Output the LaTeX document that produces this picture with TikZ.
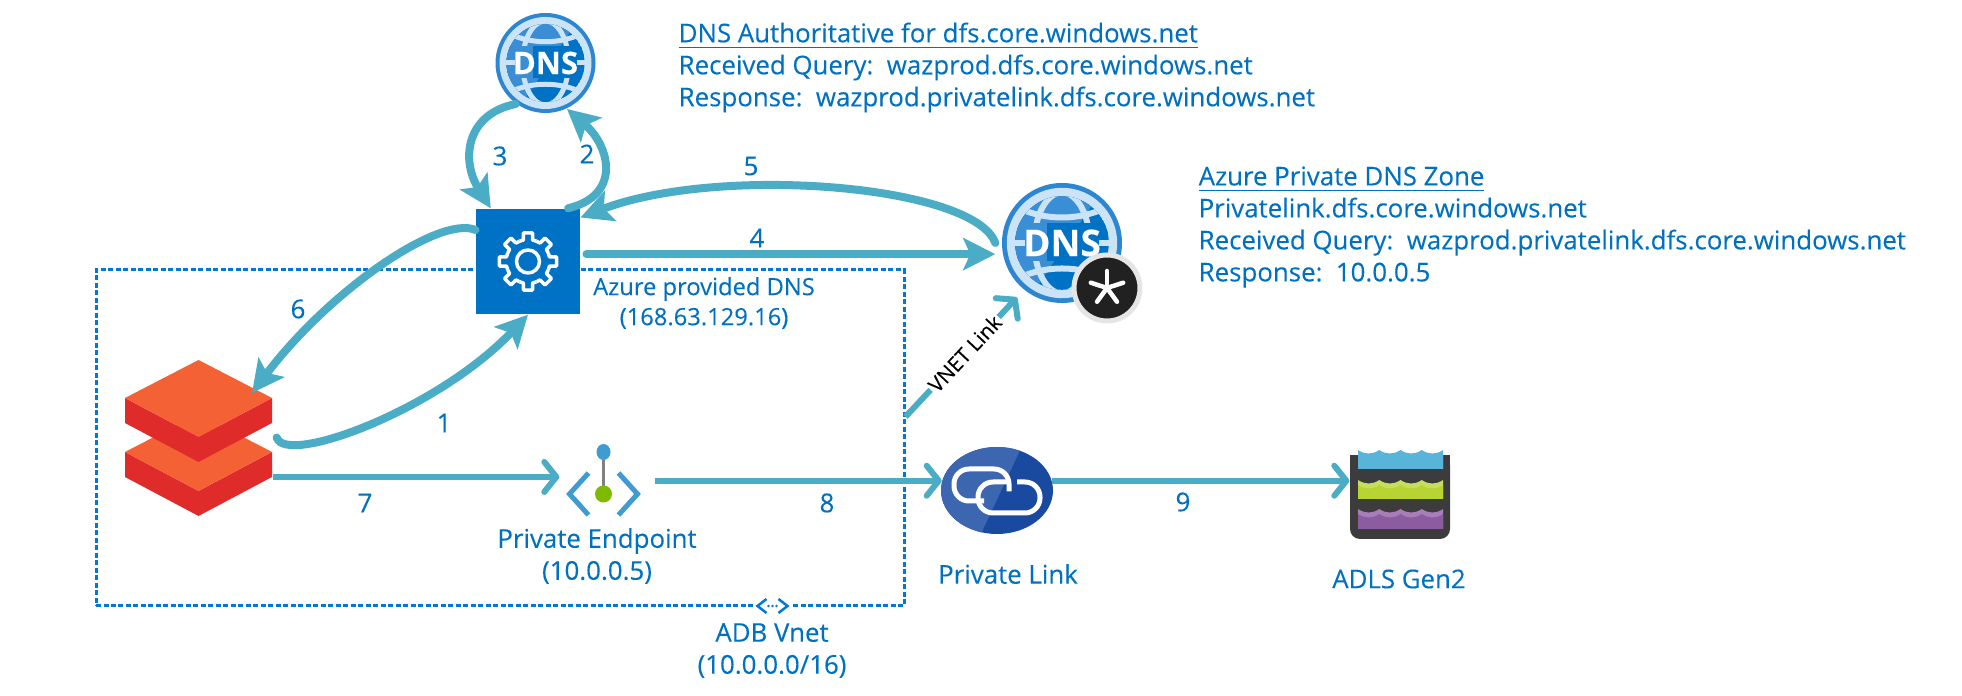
\documentclass[tikz,border=0pt]{standalone}
\usepackage{fontspec}
\usepackage{xcolor}
\usepackage{tikz}
\usetikzlibrary{calc}
\usetikzlibrary{arrows.meta}
\usetikzlibrary{shapes.geometric}
\setmainfont[FakeBold=0.15]{Open Sans}

\definecolor{flowcol}{HTML}{4BACC6}
\definecolor{txtcol}{HTML}{0070C0}
\definecolor{vnetcol}{HTML}{0078D7}
\definecolor{gearcol}{HTML}{0072C6}
\definecolor{ringcol}{HTML}{2C86D1}
\definecolor{litecol}{HTML}{CBE3F6}
\definecolor{sheencol}{HTML}{3A8ED6}
\definecolor{topcol}{HTML}{F46135}
\definecolor{sidecol}{HTML}{E02B2B}
\definecolor{linkcol}{HTML}{1A4AA0}
\definecolor{linklite}{HTML}{3D66B0}
\definecolor{adlscol}{HTML}{3C3C3C}
\definecolor{waterblue}{HTML}{59B4D9}
\definecolor{watergreen}{HTML}{B8D432}
\definecolor{watergreenlt}{HTML}{C6DD5E}
\definecolor{waterpurple}{HTML}{8C5CA0}
\definecolor{waterpurplelt}{HTML}{A87DBA}
\definecolor{pepgreen}{HTML}{7FBA00}
\definecolor{pepblue}{HTML}{3F9BD0}

\tikzset{
    flow/.style={draw=flowcol,line width=0.08cm,line cap=round,-{Stealth[length=0.32cm,width=0.32cm,inset=0.07cm]}},
    thinflow/.style={draw=flowcol,line width=0.06cm,-{Straight Barb[length=0.12cm,width=0.3cm,round]}},
    txtlabel/.style={text=txtcol,font=\fontsize{7.35}{9.1}\selectfont,inner sep=0pt},
    iconlabel/.style={txtlabel,align=center},
    infolabel/.style={txtlabel,align=left,anchor=west},
    numlabel/.style={text=txtcol,font=\fontsize{7.4}{8}\selectfont,inner sep=0pt},
    dnsnode/.style={circle,inner sep=0pt,minimum size=#1*2cm,fill=ringcol},
    dnstext/.style={text=white,inner sep=0pt,font=\fontsize{#1}{12}\selectfont\bfseries},
    gearline/.style={draw=white,line width=0.035cm,line join=round},
}

% globe lines, drawn over a named node
\newcommand{\globelines}[2]{%
\begin{scope}[shift={(#1.center)},scale=#2]
    \fill[litecol] (0,0) circle (0.92);
    \begin{scope}
    \clip (0,0) circle (0.78);
    \fill[gearcol] (0,0) circle (0.78);
    \fill[sheencol] (-1,1) -- (0.75,1) -- (-0.6,-1) -- cycle;
    \draw[litecol,line width=#2*0.1cm] (0,0) ellipse (0.46 and 0.84);
    \draw[litecol,line width=#2*0.1cm] (-0.8,0.62) .. controls (-0.3,0.36) and (0.3,0.36) .. (0.8,0.62);
    \draw[litecol,line width=#2*0.1cm] (-0.8,-0.62) .. controls (-0.3,-0.36) and (0.3,-0.36) .. (0.8,-0.62);
    \fill[gearcol] (-1,-0.3) rectangle (1,0.34);
    \fill[sheencol] (-1,-0.3) rectangle (-0.25,0.34);
    \end{scope}
    \draw[litecol,line width=#2*0.1cm] (-0.85,0) -- (-0.62,0) (0.85,0) -- (0.62,0);
\end{scope}}

\newcommand{\wavelayer}[4]{%
    \fill[#3] (-0.42,#2) -- (-0.42,#1) to[bend right=35] (-0.2075,#1) to[bend right=35] (0.005,#1) to[bend right=35] (0.2175,#1) to[bend right=35] (0.43,#1) -- (0.43,#2) -- cycle;
    \fill[#4] (-0.42,#2) -- (-0.42,#1-0.05) to[bend right=35] (-0.2075,#1-0.05) to[bend right=35] (0.005,#1-0.05) to[bend right=35] (0.2175,#1-0.05) to[bend right=35] (0.43,#1-0.05) -- (0.43,#2) -- cycle;
}

\begin{document}
\begin{tikzpicture}
\useasboundingbox (0,0) rectangle (19.62,6.96);

% Vnet box
\node[draw=vnetcol,line width=0.03cm,dash pattern=on 0.05cm off 0.025cm,minimum width=8.08cm,minimum height=3.36cm] (vnet) at (5,2.58){};
\node[fill=white,minimum width=0.36cm,minimum height=0.2cm,inner sep=0pt] (vneticon) at (7.725,0.9){};
\draw[vnetcol,line width=0.025cm] ($(vneticon.center)+(-0.06,0.07)$) -- ++(-0.09,-0.07) -- ++(0.09,-0.07);
\draw[vnetcol,line width=0.025cm] ($(vneticon.center)+(0.06,0.07)$) -- ++(0.09,-0.07) -- ++(-0.09,-0.07);
\foreach \k in {-0.04,0,0.04} \fill[vnetcol] ($(vneticon.center)+(\k,0)$) circle (0.014);

% Icons
\node[dnsnode=0.5] (dnstop) at (5.455,6.33){};
\globelines{dnstop}{0.5}
\node[dnstext=8.8] (dnstoptxt) at (dnstop.center){DNS};
\node[dnsnode=0.6] (dnszone) at (10.62,4.53){};
\globelines{dnszone}{0.6}
\node[dnstext=10.5] (dnszonetxt) at (dnszone.center){DNS};
\node[circle,fill=black!87,draw=black!10,line width=0.05cm,minimum size=0.66cm,inner sep=0pt] (zonebadge) at (11.07,4.08){};
\foreach \a in {90,162,234,306,18} \draw[white,line width=0.045cm,line cap=round] (zonebadge.center) -- ++(\a:0.17);

\node[fill=gearcol,minimum width=1.035cm,minimum height=1.05cm,inner sep=0pt] (gear) at (5.28,4.345){};
\foreach \a in {0,45,...,315}
    \draw[gearline,shift={(gear.center)},rotate=\a] (-22.5:0.22) -- (-12:0.22) -- (-9:0.29) -- (9:0.29) -- (12:0.22) -- (22.5:0.22);
\draw[gearline] (gear.center) circle (0.115);

\node[minimum width=1.47cm,minimum height=1.55cm,inner sep=0pt] (dbx) at (1.985,2.585){};
\foreach \dy in {-0.54,0}{
    \begin{scope}[shift={(dbx.center)},yshift=\dy cm]
    \fill[sidecol] (-0.735,0.395) -- (0,0.005) -- (0.735,0.395) -- (0.735,0.145) -- (0,-0.245) -- (-0.735,0.145) -- cycle;
    \fill[topcol] (0,0.775) -- (0.735,0.395) -- (0,0.005) -- (-0.735,0.395) -- cycle;
    \end{scope}
}

\node[minimum width=0.73cm,minimum height=0.66cm,inner sep=0pt] (pep) at (6.035,2.14){};
\begin{scope}[shift={(pep.center)}]
\draw[black!50,line width=0.03cm] (0,0.3) -- (0,-0.12);
\fill[pepblue] (0,0.3) ellipse (0.07 and 0.08);
\fill[pepgreen] (0,-0.12) circle (0.085);
\draw[pepblue,line width=0.05cm] (-0.15,0.09) -- (-0.34,-0.12) -- (-0.15,-0.33);
\draw[pepblue,line width=0.05cm] (0.15,0.09) -- (0.34,-0.12) -- (0.15,-0.33);
\end{scope}

\node[ellipse,minimum width=1.12cm,minimum height=0.87cm,inner sep=0pt,fill=linkcol] (plink) at (9.97,2.055){};
\begin{scope}
\clip (plink.center) ellipse (0.56 and 0.435);
\fill[linklite] (9.41,2.5) -- (10.22,2.5) -- (9.8,1.6) -- (9.41,1.6) -- cycle;
\end{scope}
\begin{scope}[shift={(plink.center)},rounded corners=0.15cm,line width=0.05cm]
\draw[white] (-0.13,-0.105) -- (-0.43,-0.105) -- (-0.43,0.215) -- (0.12,0.215) -- (0.12,-0.01);
\draw[white] (0.1,0.085) -- (-0.19,0.085) -- (-0.19,-0.225) -- (0.43,-0.225) -- (0.43,0.085) -- (0.2,0.085);
\end{scope}

\node[minimum width=1cm,minimum height=0.84cm,inner sep=0pt] (adls) at (14,1.99){};
\begin{scope}[shift={(adls.center)}]
\fill[adlscol,rounded corners=0.1cm] (-0.5,0.42) -- (-0.5,-0.42) -- (0.5,-0.42) -- (0.5,0.42) -- cycle;
\fill[adlscol] (-0.5,0.42) rectangle (0.5,0);
\wavelayer{0.47}{0.28}{waterblue}{waterblue}
\wavelayer{0.17}{-0.02}{watergreenlt}{watergreen}
\wavelayer{-0.12}{-0.32}{waterpurplelt}{waterpurple}
\end{scope}

% Connectors
\draw[flow] (gear.53) .. controls +(0.54,0.13) and +(0.43,-0.37) .. (dnstop.-65);
\draw[flow] (dnstop.234) .. controls +(-0.5,-0.1) and +(-0.3,0.48) .. (gear.125);
\draw[flow,shorten <=0.06cm,shorten >=0.06cm] (gear.8) -- (gear.8 -| dnszone.west);
\draw[flow] ([xshift=-0.06cm]dnszone.west) .. controls +(-0.21,0.58) and +(1.39,0.53) .. (gear.40);
\coordinate (dbxtop) at (2.52,3.03);
\draw[flow] (gear.149) .. controls +(-0.36,0.15) and +(0.78,1.03) .. (dbxtop);
\draw[flow] ([xshift=0.04cm]dbx.east) .. controls +(0.09,-0.29) and +(-0.9,-0.95) .. (gear.south);
\draw[thinflow,shorten >=0.07cm] (dbx.-28) -- (dbx.-28 -| pep.west);
\draw[thinflow,shorten <=0.14cm] (plink.170 -| pep.east) -- (plink.170);
\draw[thinflow] (plink.10) -- (plink.10 -| adls.west);
\draw[thinflow,shorten >=0.1cm] (vnet.3.7) -- (dnszone.231)
    node[midway,sloped,fill=white,inner sep=0.5pt,text=black,font=\fontsize{5.9}{7}\selectfont]{VNET Link};

% Labels
\foreach \n/\x/\y in {1/4.44/2.73,2/5.87/5.42,3/5.0/5.40,4/7.57/4.58,5/7.51/5.30,6/2.98/3.87,7/3.65/1.93,8/8.27/1.93,9/11.83/1.94}
    \node[numlabel] (num\n) at (\x,\y){\n};

\node[iconlabel,font=\fontsize{6.75}{8.55}\selectfont] (lblgear) at (7.04,3.93){Azure provided DNS\\(168.63.129.16)};
\node[iconlabel] (lblpep) at (5.97,1.40){Private Endpoint\\(10.0.0.5)};
\node[iconlabel] (lblvnet) at (7.72,0.455){ADB Vnet\\(10.0.0.0/16)};
\node[iconlabel] (lblplink) at (10.08,1.22){Private Link};
\node[iconlabel] (lbladls) at (13.99,1.17){ADLS Gen2};

\node[infolabel] (infotop) at (6.78,6.285){\underline{DNS Authoritative for dfs.core.windows.net}\\Received Query:\ \ wazprod.dfs.core.windows.net\\Response:\ \ wazprod.privatelink.dfs.core.windows.net};
\node[infolabel] (infozone) at (11.98,4.69){\underline{Azure Private DNS Zone}\\Privatelink.dfs.core.windows.net\\Received Query:\ \ wazprod.privatelink.dfs.core.windows.net\\Response:\ \ 10.0.0.5};

\end{tikzpicture}
\end{document}
